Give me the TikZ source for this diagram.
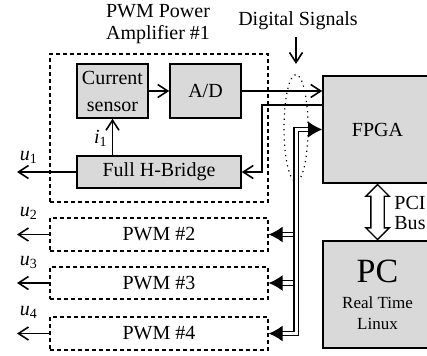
\documentclass[tikz,border=0pt]{standalone}
\usepackage{fontspec}
\setmainfont{Liberation Serif}
\usetikzlibrary{arrows.meta, shapes.geometric, shapes.arrows, calc, positioning}

\newcommand{\vsub}[2]{\textit{#1}\textsubscript{#2}}

\begin{document}
\begin{tikzpicture}[x=0.5pt, y=-0.5pt, font=\fontsize{10}{11}\selectfont,
  blk/.style={draw, line width=0.8pt, fill=gray!30, inner sep=0pt, align=center},
  amp/.style={draw, dash pattern=on 2pt off 1.5pt, line width=0.7pt, minimum width=109pt, inner sep=0pt},
  sig/.style={line width=0.8pt, -{Straight Barb[length=5pt, width=6.5pt]}},
  bus/.style={double, double distance=1.6pt, line width=0.6pt},
  bustip/.style={-{Latex[length=7pt, width=8pt]}}]
\useasboundingbox (0,0) rectangle (427,355);

% Amplifier #1
\node[amp, minimum height=74pt] (amp1) at (159,128) {};
\node[align=center] (ttl) at (158,24) {PWM Power\\Amplifier \#1};
\node[blk, minimum width=35.5pt, minimum height=27pt, font=\fontsize{10}{13.5}\selectfont] (cs) at (112.5,91) {Current\\sensor};
\node[blk, minimum width=35.5pt, minimum height=27pt] (ad) at (205.5,91) {A/D};
\node[blk, minimum width=82pt, minimum height=16pt] (hb) at (159,172) {Full H-Bridge};

% Other amplifiers
\node[amp, minimum height=16.5pt] (pwm2) at (159,234.5) {PWM \#2};
\node[amp, minimum height=16pt] (pwm3) at (159,283) {PWM \#3};
\node[amp, minimum height=16.5pt] (pwm4) at (159,333.5) {PWM \#4};

% FPGA and PC
\node[blk, minimum width=54.5pt, minimum height=53.5pt] (fpga) at (377.5,129.5) {FPGA};
\node[blk, minimum width=54.5pt, minimum height=53.5pt, font=\fontsize{8.5}{10.5}\selectfont] (pc) at (377.5,294.5)
  {{\fontsize{17}{17}\selectfont PC}\\[2.5pt]Real Time\\Linux};
\node[double arrow, draw, fill=white, line width=0.7pt, rotate=90, minimum height=27.5pt, inner sep=3pt,
  double arrow head extend=2.5pt] (pci) at ($(fpga.south)!0.5!(pc.north)$) {};
\node[anchor=west, inner sep=0pt, align=left, font=\fontsize{10}{10}\selectfont] (pcil) at (394,213) {PCI\\Bus};

% Digital signals
\node[draw, dotted, line width=0.6pt, ellipse, minimum width=12pt, minimum height=53.5pt, inner sep=0pt] (ell) at (296,128) {};
\node (dsig) at (298,21) {Digital Signals};
\draw[sig, shorten >=5pt] (dsig.south -| ell.north) -- (ell.north);

% Connections
\draw[sig] (cs.east) -- (ad.west);
\draw[sig] (hb.north -| cs.south) -- node[left, inner sep=2pt, pos=0.45] {\vsub{i}{1}} (cs.south);
\draw[sig] (ad.east) -- (ad.east -| fpga.west);
\draw[sig] ($(fpga.west)+(0,-24.5)$) -| ($(hb.east)+(20,0)$) -- (hb.east);

\coordinate (bj) at ($(fpga.west)+(-26,0)$);
\draw[bus, bustip] (bj |- pwm2.east) -- (pwm2.east);
\draw[bus, bustip] (bj |- pwm3.east) -- (pwm3.east);
\draw[bus, {Latex[length=7pt, width=8pt]}-{Latex[length=7pt, width=8pt]}] (pwm4.east) -| (bj) -- (fpga.west);

% Outputs
\coordinate (lft) at (17,0);
\draw[sig] (hb.west) -- (hb.west -| lft) node[above right, inner sep=1pt, yshift=3pt] {\vsub{u}{1}};
\draw[sig] (pwm2.west) -- (pwm2.west -| lft) node[above right, inner sep=1pt, yshift=6pt] {\vsub{u}{2}};
\draw[sig] (pwm3.west) -- (pwm3.west -| lft) node[above right, inner sep=1pt, yshift=6pt] {\vsub{u}{3}};
\draw[sig] (pwm4.west) -- (pwm4.west -| lft) node[above right, inner sep=1pt, yshift=6pt] {\vsub{u}{4}};
\end{tikzpicture}
\end{document}
